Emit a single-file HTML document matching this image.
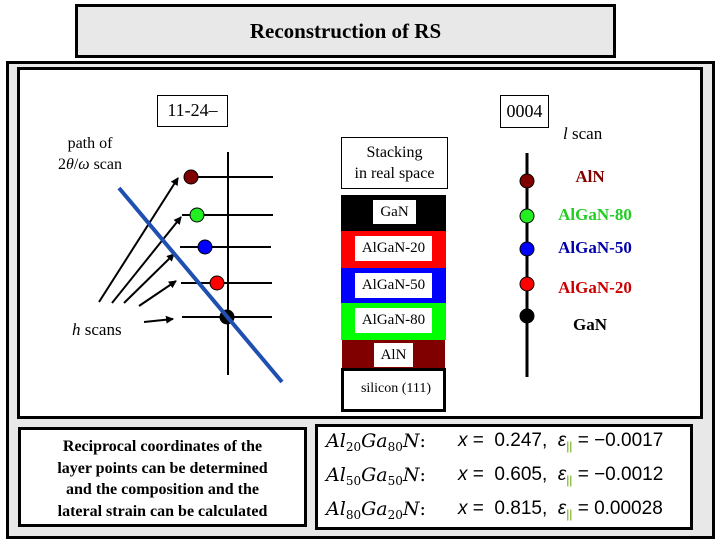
<!DOCTYPE html>
<html><head><meta charset="utf-8"><style>
body{margin:0;width:720px;height:540px;position:relative;background:#fff;font-family:"Liberation Serif",serif;overflow:hidden}
.a{position:absolute;box-sizing:border-box}
.t{position:absolute;white-space:nowrap}
sub{line-height:0;font-size:12px;vertical-align:-4px}
.eq div{height:34px;line-height:34px}
</style></head><body>
<div class="a" style="left:75px;top:4px;width:541px;height:54px;background:#e8e8e8;border:3px solid #000"></div>
<div class="t" style="left:75px;width:541px;top:19px;text-align:center;font-size:21px;font-weight:bold">Reconstruction of RS</div>
<div class="a" style="left:6px;top:61px;width:709px;height:478px;background:#e8e8e8;border:3px solid #000"></div>
<div class="a" style="left:17px;top:67px;width:686px;height:352px;background:#fff;border:3px solid #000"></div>
<div class="a" style="left:18px;top:427px;width:289px;height:100px;background:#fff;border:3px solid #000"></div>
<div class="t" style="left:18px;width:289px;top:436px;text-align:center;font-size:16px;font-weight:bold;line-height:21.5px;white-space:normal">Reciprocal coordinates of the<br>layer points can be determined<br>and the composition and the<br>lateral strain can be calculated</div>
<div class="a" style="left:315px;top:424px;width:378px;height:106px;background:#fff;border:3px solid #000"></div>
<div class="t eq" style="left:326px;top:424px;font-size:19px;font-family:'DejaVu Serif',serif">
<div><i>Al</i><sub>20</sub><i>Ga</i><sub>80</sub><i>N</i>:</div>
<div><i>Al</i><sub>50</sub><i>Ga</i><sub>50</sub><i>N</i>:</div>
<div><i>Al</i><sub>80</sub><i>Ga</i><sub>20</sub><i>N</i>:</div></div>
<div class="t eq" style="left:458px;top:424px;font-size:19px;font-family:'Liberation Sans',sans-serif">
<div><i>x</i> = &nbsp;0.247, &nbsp;<i>ε</i><sub style="color:#6a0">||</sub> = −0.0017</div>
<div><i>x</i> = &nbsp;0.605, &nbsp;<i>ε</i><sub style="color:#6a0">||</sub> = −0.0012</div>
<div><i>x</i> = &nbsp;0.815, &nbsp;<i>ε</i><sub style="color:#6a0">||</sub> = 0.00028</div></div>

<div class="a" style="left:157px;top:95px;width:71px;height:32px;border:1px solid #000"></div>
<div class="t" style="left:157px;width:71px;top:100px;text-align:center;font-size:18px">11-24–</div>
<div class="a" style="left:500px;top:95px;width:49px;height:33px;border:1px solid #000"></div>
<div class="t" style="left:500px;width:49px;top:101px;text-align:center;font-size:18px">0004</div>
<div class="t" style="left:40px;width:100px;top:133px;text-align:center;font-size:16px;line-height:21px">path of<br>2<i>θ</i>/<i>ω</i> scan</div>
<div class="t" style="left:72px;top:320px;font-size:17px"><i>h</i> scans</div>
<div class="t" style="left:563px;top:124px;font-size:17px"><i>l</i> scan</div>

<div class="a" style="left:341px;top:137px;width:107px;height:52px;border:1px solid #000"></div>
<div class="t" style="left:341px;width:107px;top:142px;text-align:center;font-size:16px;line-height:21px">Stacking<br>in real space</div>
<div class="a" style="left:341px;top:195px;width:105px;height:36px;background:#000"></div>
<div class="a" style="left:341px;top:231px;width:105px;height:37px;background:#f00"></div>
<div class="a" style="left:341px;top:268px;width:105px;height:35px;background:#00f"></div>
<div class="a" style="left:341px;top:303px;width:105px;height:37px;background:#0f0"></div>
<div class="a" style="left:342px;top:340px;width:103px;height:29px;background:#800000"></div>
<div class="a" style="left:341px;top:368px;width:105px;height:44px;background:#fff;border:3px solid #000"></div>
<div class="t" style="left:373px;width:43px;top:200px;height:24px;background:#fff;text-align:center;font-size:15px;line-height:24px">GaN</div>
<div class="t" style="left:355px;width:77px;top:236px;height:25px;background:#fff;text-align:center;font-size:15px;line-height:25px">AlGaN-20</div>
<div class="t" style="left:355px;width:77px;top:273px;height:25px;background:#fff;text-align:center;font-size:15px;line-height:25px">AlGaN-50</div>
<div class="t" style="left:355px;width:77px;top:308px;height:25px;background:#fff;text-align:center;font-size:15px;line-height:25px">AlGaN-80</div>
<div class="t" style="left:374px;width:39px;top:343px;height:24px;background:#fff;text-align:center;font-size:15px;line-height:24px">AlN</div>
<div class="t" style="left:341px;width:110px;top:381px;text-align:center;font-size:14px">silicon (111)</div>

<div class="t" style="left:550px;width:80px;top:167px;text-align:center;font-size:17px;font-weight:bold;color:#800000">AlN</div>
<div class="t" style="left:540px;width:110px;top:205px;text-align:center;font-size:17px;font-weight:bold;color:#2c2">AlGaN-80</div>
<div class="t" style="left:540px;width:110px;top:238px;text-align:center;font-size:17px;font-weight:bold;color:#00a">AlGaN-50</div>
<div class="t" style="left:540px;width:110px;top:278px;text-align:center;font-size:17px;font-weight:bold;color:#c00">AlGaN-20</div>
<div class="t" style="left:550px;width:80px;top:315px;text-align:center;font-size:17px;font-weight:bold">GaN</div>

<svg class="a" style="left:0;top:0" width="720" height="540">
<defs><marker id="ar" markerWidth="8" markerHeight="8" refX="7" refY="4" orient="auto" markerUnits="userSpaceOnUse"><path d="M0,0L8,4L0,8z" fill="#000"/></marker></defs>
<g stroke="#000" stroke-width="2">
<line x1="228" y1="152" x2="228" y2="375"/>
<line x1="190" y1="177" x2="273" y2="177"/>
<line x1="182" y1="215" x2="273" y2="215"/>
<line x1="180" y1="247" x2="271" y2="247"/>
<line x1="181" y1="283" x2="272" y2="283"/>
<line x1="182" y1="317" x2="272" y2="317"/>
<line x1="99" y1="302" x2="178" y2="178" marker-end="url(#ar)"/>
<line x1="112" y1="303" x2="181" y2="217" marker-end="url(#ar)"/>
<line x1="124" y1="303" x2="174" y2="254" marker-end="url(#ar)"/>
<line x1="139" y1="306" x2="176" y2="281" marker-end="url(#ar)"/>
<line x1="144" y1="322" x2="173" y2="319" marker-end="url(#ar)"/>
<line x1="527" y1="153" x2="527" y2="377" stroke-width="3"/>
</g>
<g stroke="#000" stroke-width="1">
<circle cx="191" cy="177" r="7" fill="#800000"/>
<circle cx="197" cy="215" r="7" fill="#2e2"/>
<circle cx="205" cy="247" r="7" fill="#00f"/>
<circle cx="217" cy="283" r="7" fill="#f00"/>
<circle cx="227" cy="317" r="7" fill="#000"/>
<circle cx="527" cy="181" r="7" fill="#800000"/>
<circle cx="527" cy="216" r="7" fill="#2e2"/>
<circle cx="527" cy="249" r="7" fill="#00f"/>
<circle cx="527" cy="284" r="7" fill="#f00"/>
<circle cx="527" cy="316" r="7" fill="#000"/>
</g>
<line x1="119" y1="188" x2="282" y2="382" stroke="#1f4fb0" stroke-width="4"/>
</svg>
</body></html>
